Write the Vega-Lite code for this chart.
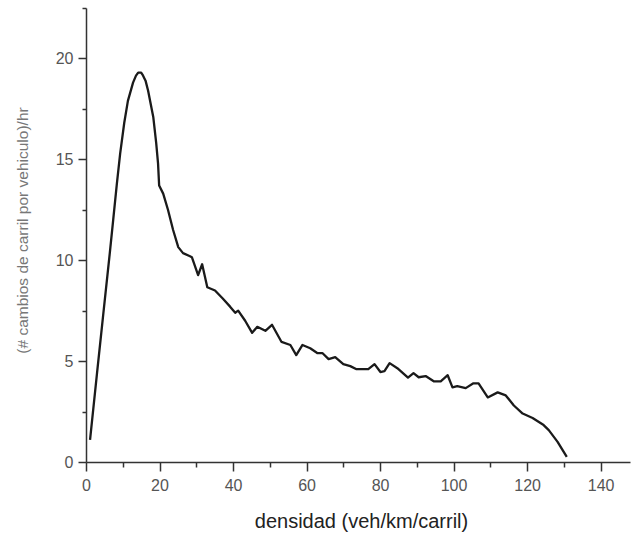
{
  "$schema": "https://vega.github.io/schema/vega-lite/v6.json",
  "width": 544,
  "height": 454,
  "autosize": {"type": "none"},
  "padding": {"left": 86, "top": 8, "right": 1, "bottom": 71},
  "background": "white",
  "config": {"view": {"stroke": null}, "font": "Liberation Sans"},
  "data": {"values": [
    {"d":1.1,"v":1.1},{"d":3.0,"v":4.4},{"d":4.6,"v":7.15},{"d":6.5,"v":10.4},{"d":7.4,"v":12.0},{"d":8.4,"v":13.8},{"d":9.3,"v":15.3},{"d":10.4,"v":16.8},{"d":11.4,"v":17.9},{"d":12.8,"v":18.8},{"d":13.6,"v":19.15},{"d":14.2,"v":19.3},{"d":15.0,"v":19.3},{"d":15.5,"v":19.16},{"d":16.2,"v":18.9},{"d":16.9,"v":18.4},{"d":18.3,"v":17.1},{"d":19.1,"v":15.8},{"d":19.6,"v":14.8},{"d":19.9,"v":13.7},{"d":21.0,"v":13.3},{"d":22.3,"v":12.5},{"d":23.7,"v":11.5},{"d":25.1,"v":10.65},{"d":26.4,"v":10.35},{"d":28.3,"v":10.2},{"d":28.8,"v":10.15},{"d":30.5,"v":9.26},{"d":31.6,"v":9.8},{"d":33.0,"v":8.66},{"d":35.1,"v":8.5},{"d":37.2,"v":8.1},{"d":39.2,"v":7.7},{"d":40.6,"v":7.4},{"d":41.4,"v":7.5},{"d":43.3,"v":7.0},{"d":45.2,"v":6.4},{"d":46.6,"v":6.7},{"d":48.8,"v":6.5},{"d":50.6,"v":6.8},{"d":53.2,"v":5.95},{"d":55.6,"v":5.8},{"d":57.2,"v":5.3},{"d":58.9,"v":5.8},{"d":61.0,"v":5.64},{"d":62.9,"v":5.4},{"d":64.3,"v":5.4},{"d":66.0,"v":5.1},{"d":67.8,"v":5.2},{"d":70.0,"v":4.85},{"d":71.9,"v":4.75},{"d":73.6,"v":4.6},{"d":76.8,"v":4.6},{"d":78.5,"v":4.85},{"d":80.1,"v":4.46},{"d":81.2,"v":4.5},{"d":82.6,"v":4.9},{"d":84.7,"v":4.65},{"d":87.6,"v":4.18},{"d":89.1,"v":4.4},{"d":90.5,"v":4.2},{"d":92.4,"v":4.26},{"d":94.6,"v":4.0},{"d":96.5,"v":4.0},{"d":98.4,"v":4.3},{"d":99.7,"v":3.7},{"d":101.0,"v":3.76},{"d":103.3,"v":3.66},{"d":105.4,"v":3.9},{"d":106.8,"v":3.9},{"d":109.3,"v":3.2},{"d":112.0,"v":3.45},{"d":114.2,"v":3.3},{"d":116.4,"v":2.8},{"d":118.8,"v":2.4},{"d":121.5,"v":2.18},{"d":124.5,"v":1.83},{"d":125.9,"v":1.58},{"d":128.3,"v":1.0},{"d":130.8,"v":0.25}
  ]},
  "mark": {"type": "line", "color": "#1a1a1a", "strokeWidth": 2.3, "strokeJoin": "round"},
  "encoding": {
    "x": {
      "field": "d", "type": "quantitative",
      "scale": {"domain": [0, 148], "nice": false, "zero": false},
      "axis": {
        "title": "densidad (veh/km/carril)",
        "values": [0,10,20,30,40,50,60,70,80,90,100,110,120,130,140],
        "labelExpr": "datum.value % 20 === 0 ? datum.label : ''",
        "grid": false,
        "domainColor": "#333", "domainWidth": 1.5,
        "tickColor": "#333", "tickWidth": 1.5,
        "tickSize": {"condition": {"test": "datum.value % 20 === 0", "value": 9}, "value": 5},
        "labelFontSize": 16, "labelColor": "#555", "labelPadding": 6,
        "labelFlush": false, "labelOverlap": false,
        "titleFontSize": 20, "titleFontWeight": "normal", "titleColor": "#222",
        "titleX": 275, "titleY": 65, "titleBaseline": "alphabetic", "titleAnchor": "middle"
      }
    },
    "y": {
      "field": "v", "type": "quantitative",
      "scale": {"domain": [0, 22.5], "nice": false, "zero": false},
      "axis": {
        "title": "(# cambios de carril por vehiculo)/hr",
        "values": [0,2.5,5,7.5,10,12.5,15,17.5,20,22.5],
        "labelExpr": "datum.value % 5 === 0 ? datum.label : ''",
        "grid": false,
        "domainColor": "#333", "domainWidth": 1.5,
        "tickColor": "#333", "tickWidth": 1.5,
        "tickSize": {"condition": {"test": "datum.value % 5 === 0", "value": 8}, "value": 4},
        "labelFontSize": 16, "labelColor": "#555", "labelPadding": 5,
        "labelFlush": false, "labelOverlap": false,
        "titleFontSize": 15.5, "titleFontWeight": "normal", "titleColor": "#777",
        "titleX": -64, "titleY": 222, "titleBaseline": "middle", "titleAngle": -90, "titleAnchor": "middle"
      }
    }
  }
}
